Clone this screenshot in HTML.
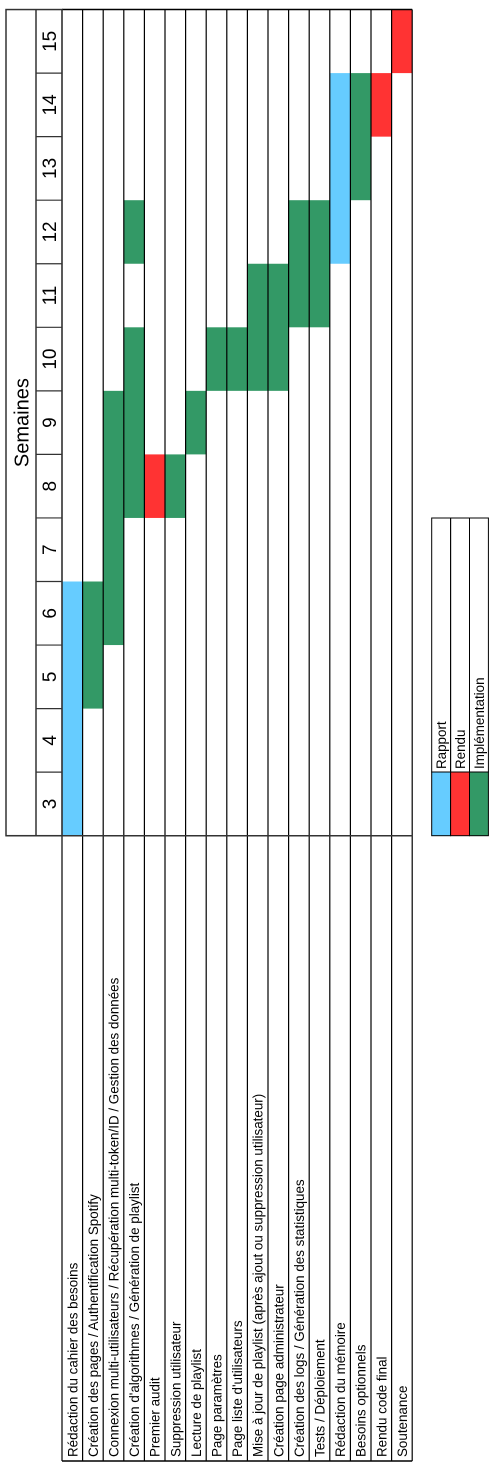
<!DOCTYPE html>
<html><head><meta charset="utf-8"><style>
html,body{margin:0;padding:0;background:#fff;}
svg{display:block;font-family:"Liberation Sans",sans-serif;}
</style></head><body>
<svg id="chart" width="501" height="1483" viewBox="0 0 501 1483" xmlns="http://www.w3.org/2000/svg"></svg>
<script>
const tasks = ["Rédaction du cahier des besoins","Création des pages / Authentification Spotify","Connexion multi-utilisateurs / Récupération multi-token/ID / Gestion des données","Création d'algorithmes / Génération de playlist","Premier audit","Suppression utilisateur","Lecture de playlist","Page paramètres","Page liste d'utilisateurs","Mise à jour de playlist (après ajout ou suppression utilisateur)","Création page administrateur","Création des logs / Génération des statistiques","Tests / Déploiement","Rédaction du mémoire","Besoins optionnels","Rendu code final","Soutenance"];
const weeks = [3,4,5,6,7,8,9,10,11,12,13,14,15];
// bars: task index, start week, end week (inclusive), type
const barTask  = [0,1,2,3,3,4,5,6,7,8,9,10,11,12,13,14,15,16];
const barStart = [3,5,6,8,12,8,8,9,10,10,10,10,11,11,12,13,14,15];
const barEnd   = [6,6,9,10,12,8,8,9,10,10,11,11,12,12,14,14,14,15];
const barType  = ["Rapport","Implémentation","Implémentation","Implémentation","Implémentation","Rendu","Implémentation","Implémentation","Implémentation","Implémentation","Implémentation","Implémentation","Implémentation","Implémentation","Rapport","Implémentation","Rendu","Rendu"];
const legendLabels = ["Rapport","Rendu","Implémentation"];
const colors = {"Rapport":"#66CCFF","Rendu":"#FF3333","Implémentation":"#339966"};

const NS="http://www.w3.org/2000/svg";
const svg=document.getElementById('chart');
const X0=62, RW=20.6, YB=835.7, WH=63.55, YT=YB-WH*weeks.length, YL=1461;
function xRow(i){return X0+RW*i;}
function yWeek(w){return YB-(w-weeks[0])*WH;}
function mk(tag,attrs,parent){const e=document.createElementNS(NS,tag);for(const k in attrs)e.setAttribute(k,attrs[k]);(parent||svg).appendChild(e);return e;}

barTask.forEach((t,i)=>{
  const r=mk('rect',{x:xRow(t),y:yWeek(barEnd[i]+1),width:RW,height:(barEnd[i]-barStart[i]+1)*WH,fill:colors[barType[i]]});
  
  
});
for(let i=0;i<=tasks.length;i++){
  mk('line',{x1:xRow(i),y1:YT,x2:xRow(i),y2:YL,stroke:'#000','stroke-width':1.2});
}
mk('line',{x1:X0,y1:YT,x2:xRow(tasks.length),y2:YT,stroke:'#000','stroke-width':1.5});
mk('line',{x1:6,y1:YB,x2:xRow(tasks.length),y2:YB,stroke:'#333','stroke-width':1.5});
mk('line',{x1:X0,y1:YL,x2:xRow(tasks.length),y2:YL,stroke:'#000','stroke-width':1.5});
const hdr=mk('rect',{x:6,y:YT,width:56,height:YB-YT,fill:'none',stroke:'#333','stroke-width':1.5});


mk('line',{x1:36,y1:YT,x2:36,y2:YB,stroke:'#333','stroke-width':1.5});
const st=mk('text',{x:28.5,y:yWeek(9.5),'font-size':20,'text-anchor':'middle',transform:`rotate(-90 28.5 ${yWeek(9.5)})`});
st.textContent='Semaines';


weeks.forEach((w,i)=>{
  if(i>0) mk('line',{x1:36,y1:yWeek(w),x2:62,y2:yWeek(w),stroke:'#333','stroke-width':1.2});
  const cy=yWeek(w)-WH/2;
  const t=mk('text',{x:56,y:cy,'font-size':19,'text-anchor':'middle',transform:`rotate(-90 56 ${cy})`});
  t.textContent=w;
  
  
});
tasks.forEach((s,i)=>{
  const cx=xRow(i)+RW/2+5;
  const t=mk('text',{x:cx,y:1457,'font-size':13.4,transform:`rotate(-90 ${cx} 1457)`});
  t.textContent=s;
  
  
});
const LX=431.7, LW=18.9, LTop=518;
legendLabels.forEach((l,i)=>{
  const x=LX+LW*i;
  const r=mk('rect',{x:x,y:772,width:LW,height:YB-772,fill:colors[l],stroke:'#000','stroke-width':1});
  
  
  mk('rect',{x:x,y:LTop,width:LW,height:772-LTop,fill:'none',stroke:'#000','stroke-width':1});
  const tx=x+LW/2+5;
  const t=mk('text',{x:tx,y:769,'font-size':13.4,transform:`rotate(-90 ${tx} 769)`});
  t.textContent=l;
  
  
});
</script>
</body></html>
